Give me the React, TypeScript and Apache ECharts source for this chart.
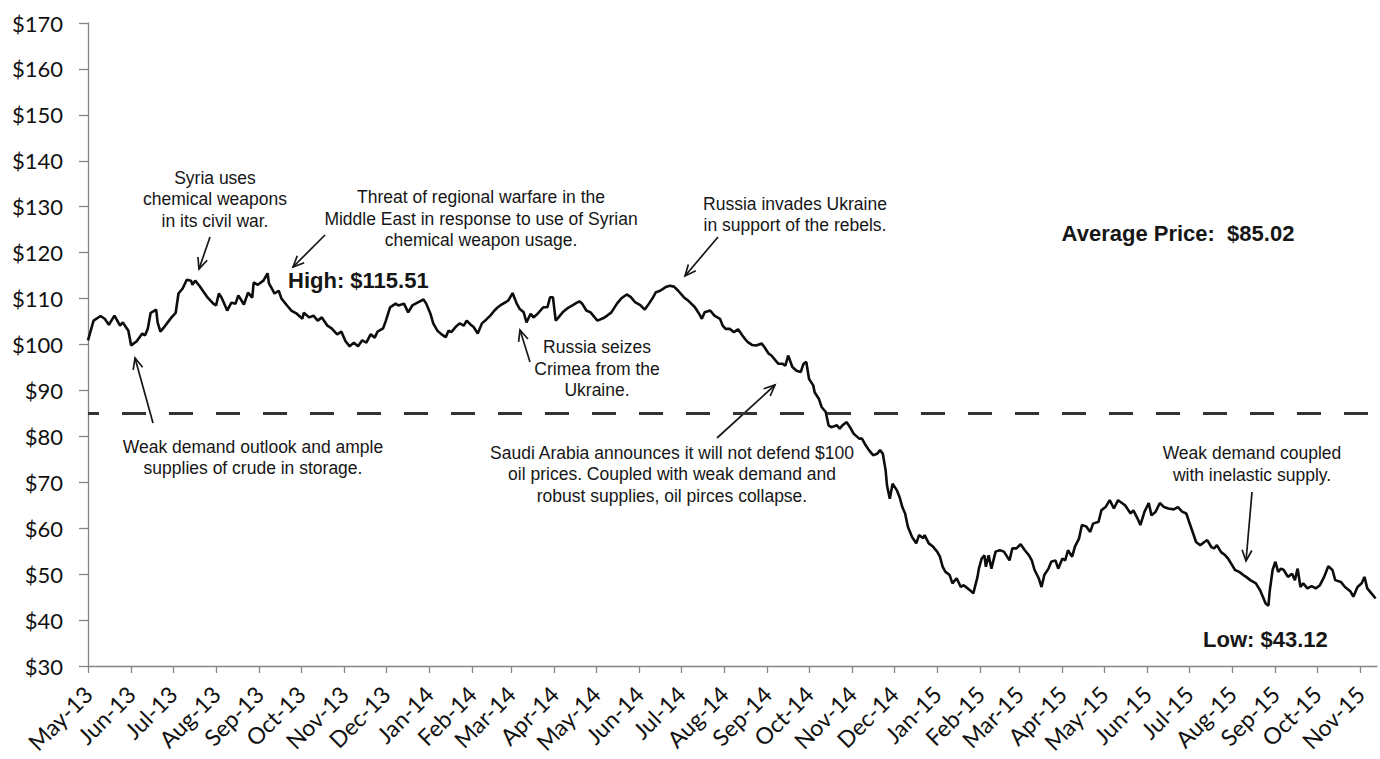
import React, { useEffect, useRef } from "react";
import * as echarts from "echarts";

// ---------- data ----------
const START_DATE = "2013-05-01";
const END_DATE = "2015-11-13";

const MONTH_LABELS = [
  "May-13", "Jun-13", "Jul-13", "Aug-13", "Sep-13", "Oct-13", "Nov-13", "Dec-13",
  "Jan-14", "Feb-14", "Mar-14", "Apr-14", "May-14", "Jun-14", "Jul-14", "Aug-14",
  "Sep-14", "Oct-14", "Nov-14", "Dec-14", "Jan-15", "Feb-15", "Mar-15", "Apr-15",
  "May-15", "Jun-15", "Jul-15", "Aug-15", "Sep-15", "Oct-15", "Nov-15",
];

// days elapsed since START_DATE for each sampled price
const DAY_OFFSETS = [
  0, 4, 9, 12, 15, 19, 23, 25, 29, 31, 35, 39, 41, 43, 45, 47, 49, 50, 52, 55,
  60, 63, 65, 68, 71, 74, 75, 77, 80, 83, 86, 90, 92, 94, 96, 100, 103, 106, 108, 112,
  115, 118, 119, 122, 126, 129, 130, 132, 134, 137, 139, 143, 146, 150, 154, 155, 159, 162, 165, 168,
  172, 175, 179, 182, 185, 188, 191, 194, 197, 200, 203, 206, 208, 212,
  214, 217, 221, 223, 227, 230, 233, 236, 241, 243, 246, 248, 251, 254, 257, 259, 261, 264, 267, 270,
  272, 275, 277, 280, 283, 286, 289, 292, 294, 297, 300, 302, 305, 308, 310, 313, 315, 318, 320, 323,
  327, 330, 332, 334, 336, 338, 341, 344, 348, 350, 353, 355, 358, 361, 364, 366, 370, 373, 376, 380,
  383, 387, 390, 393, 397, 400, 403, 406, 408, 411, 415, 418, 421, 424, 428, 431, 436,
  439, 441, 443, 447, 450, 454, 456, 458, 461, 464, 467, 470, 472, 474, 477, 480, 484, 486, 489, 491,
  494, 496, 499, 501, 503, 506, 509, 512, 514, 516, 518, 521, 522, 525, 527, 530, 532, 534, 538, 540,
  542, 545, 548, 550, 554, 556, 558, 561, 564, 567, 569, 571, 573, 574, 576, 578, 581, 583, 585, 587,
  589, 592, 595, 597, 600, 601, 604, 607, 610, 612, 614, 616, 619, 621, 624, 627, 629, 632, 634, 636,
  639, 640, 642, 644, 645, 647, 649, 652, 655, 658, 662, 664, 667, 670, 673, 676, 678, 680, 683, 685,
  687, 690, 692, 695, 697, 700, 702, 704, 707, 709, 712, 714, 717, 720, 722, 726, 728, 731, 734, 737, 740,
  745, 749, 751, 754, 756, 759, 762, 764, 767, 770, 773, 776, 780, 783, 786, 789, 791, 794, 796, 799,
  802, 804, 807, 809, 811, 814, 817, 819, 822, 824, 827, 830, 832, 835, 839, 842, 844, 846, 848, 849,
  851, 853, 855, 857, 859, 862, 865, 867, 869, 871, 873, 876, 879, 882, 885, 888, 891, 894, 896, 900,
  903, 907, 909, 912, 915, 917, 919, 922, 925,
];

const PRICES = [
  100.9, 105.2, 106.2, 105.6, 104.3, 106.3, 104.1, 104.8, 103.0, 99.8, 100.7, 102.4, 102.0, 103.5, 106.9, 107.2, 107.6, 104.8, 102.8, 103.9,
  105.9, 106.9, 111.1, 112.2, 114.1, 113.9, 113.0, 113.9, 112.8, 111.5, 110.2, 108.9, 108.5, 111.1, 110.2, 107.4, 109.1, 108.9, 110.7, 108.7,
  111.3, 110.2, 113.5, 113.0, 113.9, 115.51, 113.3, 112.2, 111.1, 111.7, 110.0, 108.5, 107.4, 106.7, 105.6, 106.9, 105.9, 106.3, 105.2, 105.9,
  104.1, 103.5, 102.2, 102.8, 100.7, 99.6, 100.4, 99.6, 100.9, 100.4, 102.2, 101.5, 102.8, 103.5,
  105.2, 108.1, 108.9, 108.5, 108.9, 107.0, 108.5, 109.0, 109.8, 108.9, 106.7, 104.6, 103.0, 102.2, 101.6, 103.0, 102.7, 103.8, 104.6, 104.1,
  105.2, 104.3, 103.8, 102.4, 104.6, 105.4, 106.3, 107.4, 108.0, 108.7, 109.2, 109.6, 111.2, 108.9, 107.8, 107.0, 104.8, 106.7, 105.9, 106.7,
  108.1, 108.1, 110.3, 110.3, 105.2, 105.9, 107.0, 107.8, 108.5, 108.9, 109.4, 108.9, 107.4, 107.0, 105.9, 105.2, 105.7, 106.3, 107.0, 108.9,
  110.0, 110.9, 110.3, 109.2, 108.5, 107.6, 108.9, 110.3, 111.4, 111.7, 112.5, 112.8, 112.6, 111.7, 110.3, 109.6, 108.1,
  106.7, 105.6, 107.0, 107.4, 106.3, 105.6, 104.1, 103.4, 103.4, 102.7, 103.3, 102.0, 101.2, 100.5, 99.9, 99.8, 100.2, 99.4, 98.0, 97.6,
  96.5, 95.8, 95.8, 95.4, 97.6, 95.1, 94.3, 94.0, 95.8, 96.2, 92.5, 91.1, 89.6, 88.2, 86.4, 85.3, 82.4, 82.0, 82.4, 81.7,
  82.4, 83.1, 81.7, 80.6, 79.5, 79.5, 78.4, 77.0, 75.9, 76.2, 77.0, 76.2, 72.6, 69.3, 66.4, 69.7, 68.3, 66.8, 64.6, 63.2,
  60.3, 58.1, 56.7, 58.5, 57.8, 58.5, 56.7, 56.0, 54.9, 53.8, 51.6, 50.5, 49.8, 48.0, 49.1, 47.2, 47.6, 46.9, 46.4, 45.8,
  49.4, 51.2, 53.4, 54.1, 51.6, 54.1, 51.2, 54.9, 55.2, 54.9, 53.0, 55.6, 55.6, 56.5, 55.2, 54.1, 53.0, 50.9, 49.1, 47.2,
  49.8, 51.2, 52.7, 53.0, 51.2, 53.4, 53.0, 55.2, 53.8, 56.0, 57.8, 60.7, 60.4, 59.2, 61.0, 61.4, 63.9, 64.6, 66.1, 64.3, 66.1,
  65.0, 63.2, 63.9, 62.1, 60.7, 63.6, 65.5, 62.8, 63.6, 65.5, 64.6, 64.3, 64.1, 64.6, 63.6, 63.2, 61.4, 58.8, 57.0, 56.3,
  57.0, 57.4, 55.9, 55.6, 56.3, 54.8, 54.1, 53.4, 51.9, 50.9, 50.5, 49.8, 49.4, 48.7, 48.0, 46.5, 45.1, 43.6, 43.12, 46.5,
  50.9, 52.7, 50.5, 51.2, 50.9, 49.4, 50.1, 48.7, 51.2, 47.2, 48.0, 46.9, 47.4, 46.9, 47.6, 49.4, 51.7, 50.9, 48.7, 48.3,
  47.2, 46.2, 45.1, 47.2, 48.0, 49.4, 46.9, 45.8, 44.7,
];

const AVERAGE_PRICE = 85.02;
const Y_MIN = 30;
const Y_MAX = 170;
const Y_STEP = 10;

const AVERAGE_LABEL = "Average Price:  $85.02";
const HIGH_LABEL = "High: $115.51";
const LOW_LABEL = "Low: $43.12";

// ---------- helpers ----------
const DAY_MS = 86400000;

function buildCategories(): string[] {
  const s = Date.parse(START_DATE);
  const e = Date.parse(END_DATE);
  const n = Math.round((e - s) / DAY_MS) + 1;
  const out: string[] = [];
  for (let i = 0; i < n; i++) out.push(new Date(s + i * DAY_MS).toISOString().slice(0, 10));
  return out;
}

function monthLabel(v: string): string {
  const y = parseInt(v.slice(0, 4), 10);
  const m = parseInt(v.slice(5, 7), 10);
  const idx = (y - 2013) * 12 + (m - 5);
  return MONTH_LABELS[idx] ?? "";
}

const INK = "#161616";
const NOTE_FONT = '"Liberation Sans", Arial, sans-serif';

function note(text: string, x: number, y: number): any {
  return {
    type: "text",
    x,
    y,
    silent: true,
    style: {
      text,
      fill: INK,
      fontSize: 17.5,
      fontFamily: NOTE_FONT,
      align: "center",
      verticalAlign: "middle",
      lineHeight: 21.5,
    },
  };
}

function boldNote(text: string, x: number, y: number, align: string): any {
  return {
    type: "text",
    x,
    y,
    silent: true,
    style: {
      text,
      fill: INK,
      fontSize: 22,
      fontWeight: "bold",
      fontFamily: NOTE_FONT,
      align,
      verticalAlign: "middle",
    },
  };
}

function arrow(x1: number, y1: number, x2: number, y2: number): any[] {
  const th = Math.atan2(y2 - y1, x2 - x1);
  const L = 12;
  const a = 0.42;
  const p1 = [x2 - L * Math.cos(th - a), y2 - L * Math.sin(th - a)];
  const p2 = [x2 - L * Math.cos(th + a), y2 - L * Math.sin(th + a)];
  return [
    {
      type: "line",
      silent: true,
      shape: { x1, y1, x2, y2 },
      style: { stroke: INK, lineWidth: 1.7 },
    },
    {
      type: "polyline",
      silent: true,
      shape: { points: [p1, [x2, y2], p2] },
      style: { stroke: INK, lineWidth: 1.7, fill: null },
    },
  ];
}

export default function App() {
  const ref = useRef<HTMLDivElement>(null);

  useEffect(() => {
    if (!ref.current) return;
    const chart = echarts.init(ref.current, null, { renderer: "svg" });
    const categories = buildCategories();
    const seriesData = DAY_OFFSETS.map((d, i) => [d, PRICES[i]]);
    const axisColor = "#858585";
    const labelFont = "Lato, 'Open Sans', sans-serif";

    const option: any = {
      animation: false,
      backgroundColor: "#ffffff",
      grid: {
        left: 88,
        right: 3,
        top: 23,
        bottom: 93,
        containLabel: false,
        outerBoundsMode: "none",
      },
      xAxis: {
        type: "category",
        data: categories,
        boundaryGap: false,
        axisLine: { show: true, lineStyle: { color: axisColor, width: 1.3 } },
        axisTick: {
          show: true,
          length: 7,
          interval: (_i: number, v: string) => v.slice(8) === "01",
          lineStyle: { color: axisColor, width: 1.3 },
        },
        axisLabel: {
          show: true,
          interval: (_i: number, v: string) => v.slice(8) === "01",
          formatter: (v: string) => monthLabel(v),
          rotate: 45,
          margin: 24,
          fontSize: 23,
          fontFamily: labelFont,
          color: "#111111",
        },
        splitLine: { show: false },
      },
      yAxis: {
        type: "value",
        min: Y_MIN,
        max: Y_MAX,
        interval: Y_STEP,
        axisLine: { show: true, lineStyle: { color: axisColor, width: 1.3 } },
        axisTick: { show: true, length: 9, lineStyle: { color: axisColor, width: 1.3 } },
        axisLabel: {
          formatter: (v: number) => "$" + v,
          fontSize: 22,
          fontFamily: labelFont,
          color: "#111111",
          margin: 25,
        },
        splitLine: { show: false },
      },
      series: [
        {
          type: "line",
          data: seriesData,
          showSymbol: false,
          symbol: "none",
          smooth: false,
          lineStyle: { color: "#0d0d0d", width: 2.6 },
          itemStyle: { color: "#0d0d0d" },
          silent: true,
          markLine: {
            silent: true,
            symbol: ["none", "none"],
            label: { show: false },
            lineStyle: { color: "#333333", width: 3, type: [24, 23], dashOffset: 13 },
            emphasis: { disabled: true },
            data: [{ yAxis: AVERAGE_PRICE }],
          },
        },
      ],
      graphic: [
        note("Syria uses\nchemical weapons\nin its civil war.", 215, 199),
        ...arrow(210, 237, 199, 269),
        note("Threat of regional warfare in the\nMiddle East in response to use of Syrian\nchemical weapon usage.", 481, 218.5),
        ...arrow(325, 235, 293, 267),
        boldNote(HIGH_LABEL, 288, 280, "left"),
        note("Russia invades Ukraine\nin support of the rebels.", 795, 214.5),
        ...arrow(718, 237, 685, 276),
        note("Russia seizes\nCrimea from the\nUkraine.", 597, 368.5),
        ...arrow(530, 362, 520, 330),
        note("Saudi Arabia announces it will not defend $100\noil prices. Coupled with weak demand and\nrobust supplies, oil pirces collapse.", 672, 474),
        ...arrow(717, 438, 775, 385),
        note("Weak demand outlook and ample\nsupplies of crude in storage.", 253, 457.5),
        ...arrow(153, 423, 135, 358),
        note("Weak demand coupled\nwith inelastic supply.", 1252, 464),
        ...arrow(1252, 492, 1246, 561),
        boldNote(LOW_LABEL, 1203, 639, "left"),
        boldNote(AVERAGE_LABEL, 1178, 233, "center"),
      ],
    };

    chart.setOption(option);
    return () => chart.dispose();
  }, []);

  return (
    <div
      ref={ref}
      style={{ position: "fixed", left: 0, top: 0, width: 1380, height: 759, background: "#fff" }}
    />
  );
}
